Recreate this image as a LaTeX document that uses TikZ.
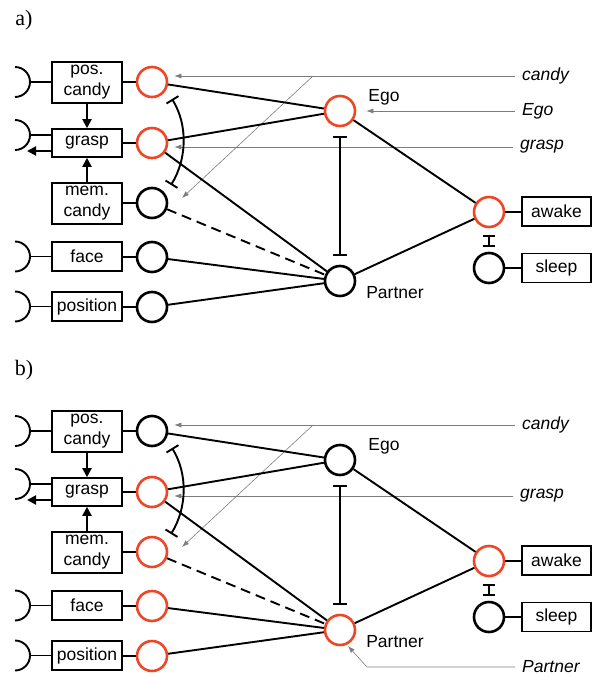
\documentclass[tikz,border=0pt]{standalone}
\usepackage{fontspec}
\setmainfont{Liberation Serif}
\setsansfont{Liberation Sans}
\usetikzlibrary{arrows.meta,calc}

\definecolor{hot}{RGB}{238,70,38}
\definecolor{thin}{RGB}{125,125,125}

\tikzset{
  neuron/.style={circle, draw=#1, line width=2.6pt, minimum size=30pt, inner sep=0pt},
  unit/.style={draw, line width=1.6pt, minimum width=70pt, minimum height=29pt,
    inner sep=0pt, align=center, font=\sffamily\fontsize{17.5}{21}\selectfont},
  wire/.style={line width=1.9pt},
  inhib/.style={line width=1.9pt, {Bar[width=14pt,line width=1.9pt]}-{Bar[width=14pt,line width=1.9pt]}},
  push/.style={line width=1.9pt, -{Triangle[length=9pt,width=9pt]}},
  feed/.style={draw=thin, line width=0.6pt, -{Latex[length=7pt,width=5pt]}},
  lbl/.style={font=\sffamily\fontsize{17.5}{21}\selectfont, inner sep=1pt},
  cue/.style={font=\sffamily\itshape\fontsize{17.5}{21}\selectfont, anchor=west, inner sep=1pt},
  tag/.style={font=\fontsize{22}{26}\selectfont, inner sep=0pt},
}

% One panel of the network; #1 is the prefix of its node names.
% Neuron colours come from cPos, cGrasp, cMem, cFace, cPosn, cEgo, cPartner.
\newcommand\netpanel[1]{%
  % perception / action units
  \node[unit, minimum height=41pt] (#1posbox) at (87,82.5) {pos.\\candy};
  \node[unit, minimum height=28pt] (#1graspbox) at (87,143) {grasp};
  \node[unit, minimum height=41pt] (#1membox) at (87,203.5) {mem.\\candy};
  \node[unit] (#1facebox) at (87,256.5) {face};
  \node[unit] (#1posnbox) at (87,306.5) {position};
  \node[unit, minimum width=69pt] (#1awakebox) at (556.5,211.5) {awake};
  \node[unit, minimum width=69pt] (#1sleepbox) at (556.5,268) {sleep};
  % neurons
  \node[neuron=cPos] (#1pos) at (152,82) {};
  \node[neuron=cGrasp] (#1grasp) at (152,143) {};
  \node[neuron=cMem] (#1mem) at (152,203) {};
  \node[neuron=cFace] (#1face) at (152,257) {};
  \node[neuron=cPosn] (#1posn) at (152,307) {};
  \node[neuron=cEgo] (#1Ego) at (340,111) {};
  \node[neuron=cPartner] (#1Partner) at (340,281) {};
  \node[neuron=hot] (#1awake) at (489,212) {};
  \node[neuron=black] (#1sleep) at (489,268) {};
  \node[lbl] (#1Egolbl) at (384,97) {Ego};
  \node[lbl] (#1Partnerlbl) at (395,293) {Partner};
  % external inputs
  \node[cue] (#1candycue) at (521,76) {candy};
  \node[cue] (#1graspcue) at (519,147) {grasp};
  \coordinate (#1fork) at (313,76);
  \draw[feed] ([xshift=-6pt]#1candycue.west) -- ([xshift=6pt]#1pos.east |- #1candycue.west);
  \draw[feed] (#1fork) -- ($(#1mem)+(30,-5)$);
  \draw[feed] ([xshift=-6pt]#1graspcue.west) -- ([xshift=6pt]#1grasp.east |- #1graspcue.west);
  % effectors on the left
  \foreach \u/\y in {pos/82,face/256.5,posn/306.5}{
    \coordinate (#1m\u) at (30,\y);
    \draw[wire] (#1m\u) -- (#1m\u -| #1\u box.west);
    \draw[wire] (#1m\u) arc[start angle=0, end angle=90, radius=15pt];
    \draw[wire] (#1m\u) arc[start angle=0, end angle=-90, radius=15pt];
  }
  \coordinate (#1mgrasp) at (30,135);
  \draw[wire] (#1mgrasp) -- (#1mgrasp -| #1graspbox.west);
  \draw[wire] (#1mgrasp) arc[start angle=0, end angle=90, radius=15pt];
  \draw[wire] (#1mgrasp) arc[start angle=0, end angle=-90, radius=15pt];
  \coordinate (#1graspout) at (27,151);
  \draw[push] (#1graspout -| #1graspbox.west) -- (#1graspout);
  % unit to neuron links
  \foreach \u in {pos,grasp,mem,face,posn}{
    \draw[wire] (#1\u box.east |- #1\u) -- (#1\u);
  }
  \draw[wire] (#1awake) -- (#1awakebox.west |- #1awake);
  \draw[wire] (#1sleep) -- (#1sleepbox.west |- #1sleep);
  \draw[push] (#1posbox) -- (#1graspbox);
  \draw[push] (#1membox) -- (#1graspbox);
  % excitatory links
  \draw[wire] (#1pos) -- (#1Ego);
  \draw[wire] (#1grasp) -- (#1Ego);
  \draw[wire] (#1grasp) -- (#1Partner);
  \draw[wire, dash pattern=on 10pt off 6pt] (#1mem) -- (#1Partner);
  \draw[wire] (#1face) -- (#1Partner);
  \draw[wire] (#1posn) -- (#1Partner);
  \draw[wire] (#1Ego) -- (#1awake);
  \draw[wire] (#1Partner) -- (#1awake);
  % inhibitory links
  \draw[inhib] ([yshift=-9pt]#1Ego.south) -- ([yshift=9pt]#1Partner.north);
  \draw[inhib, {Bar[width=12pt,line width=1.9pt]}-{Bar[width=12pt,line width=1.9pt]}]
    ([yshift=-7pt]#1awake.south) -- ([yshift=5pt]#1sleep.north);
  \draw[inhib] ($(#1pos)+(20,17)$) .. controls ($(#1pos)+(36,43)$) and ($(#1mem)+(35,-44)$) .. ($(#1mem)+(19,-18)$);
}

\begin{document}
\begin{tikzpicture}[x=1pt,y=-1pt]
\useasboundingbox (0,0) rectangle (598,677);

\node[tag] (atag) at (24,20) {a)};
\colorlet{cPos}{hot}\colorlet{cGrasp}{hot}\colorlet{cMem}{black}
\colorlet{cFace}{black}\colorlet{cPosn}{black}
\colorlet{cEgo}{hot}\colorlet{cPartner}{black}
\netpanel{a}
\node[cue] (aEgocue) at (521,111) {Ego};
\draw[feed] ([xshift=-6pt]aEgocue.west) -- ([xshift=10pt]aEgo.east |- aEgocue.west);

\node[tag] (btag) at (24,370) {b)};
\begin{scope}[yshift=-349pt]
  \colorlet{cPos}{black}\colorlet{cGrasp}{hot}\colorlet{cMem}{hot}
  \colorlet{cFace}{hot}\colorlet{cPosn}{hot}
  \colorlet{cEgo}{black}\colorlet{cPartner}{hot}
  \netpanel{b}
  \node[cue] (bPartnercue) at (521,318) {Partner};
  \coordinate (bbend) at (367,318);
  \draw[feed] ([xshift=-6pt]bPartnercue.west) -- (bbend) -- ($(bPartner)+(8,16)$);
\end{scope}
\end{tikzpicture}
\end{document}
